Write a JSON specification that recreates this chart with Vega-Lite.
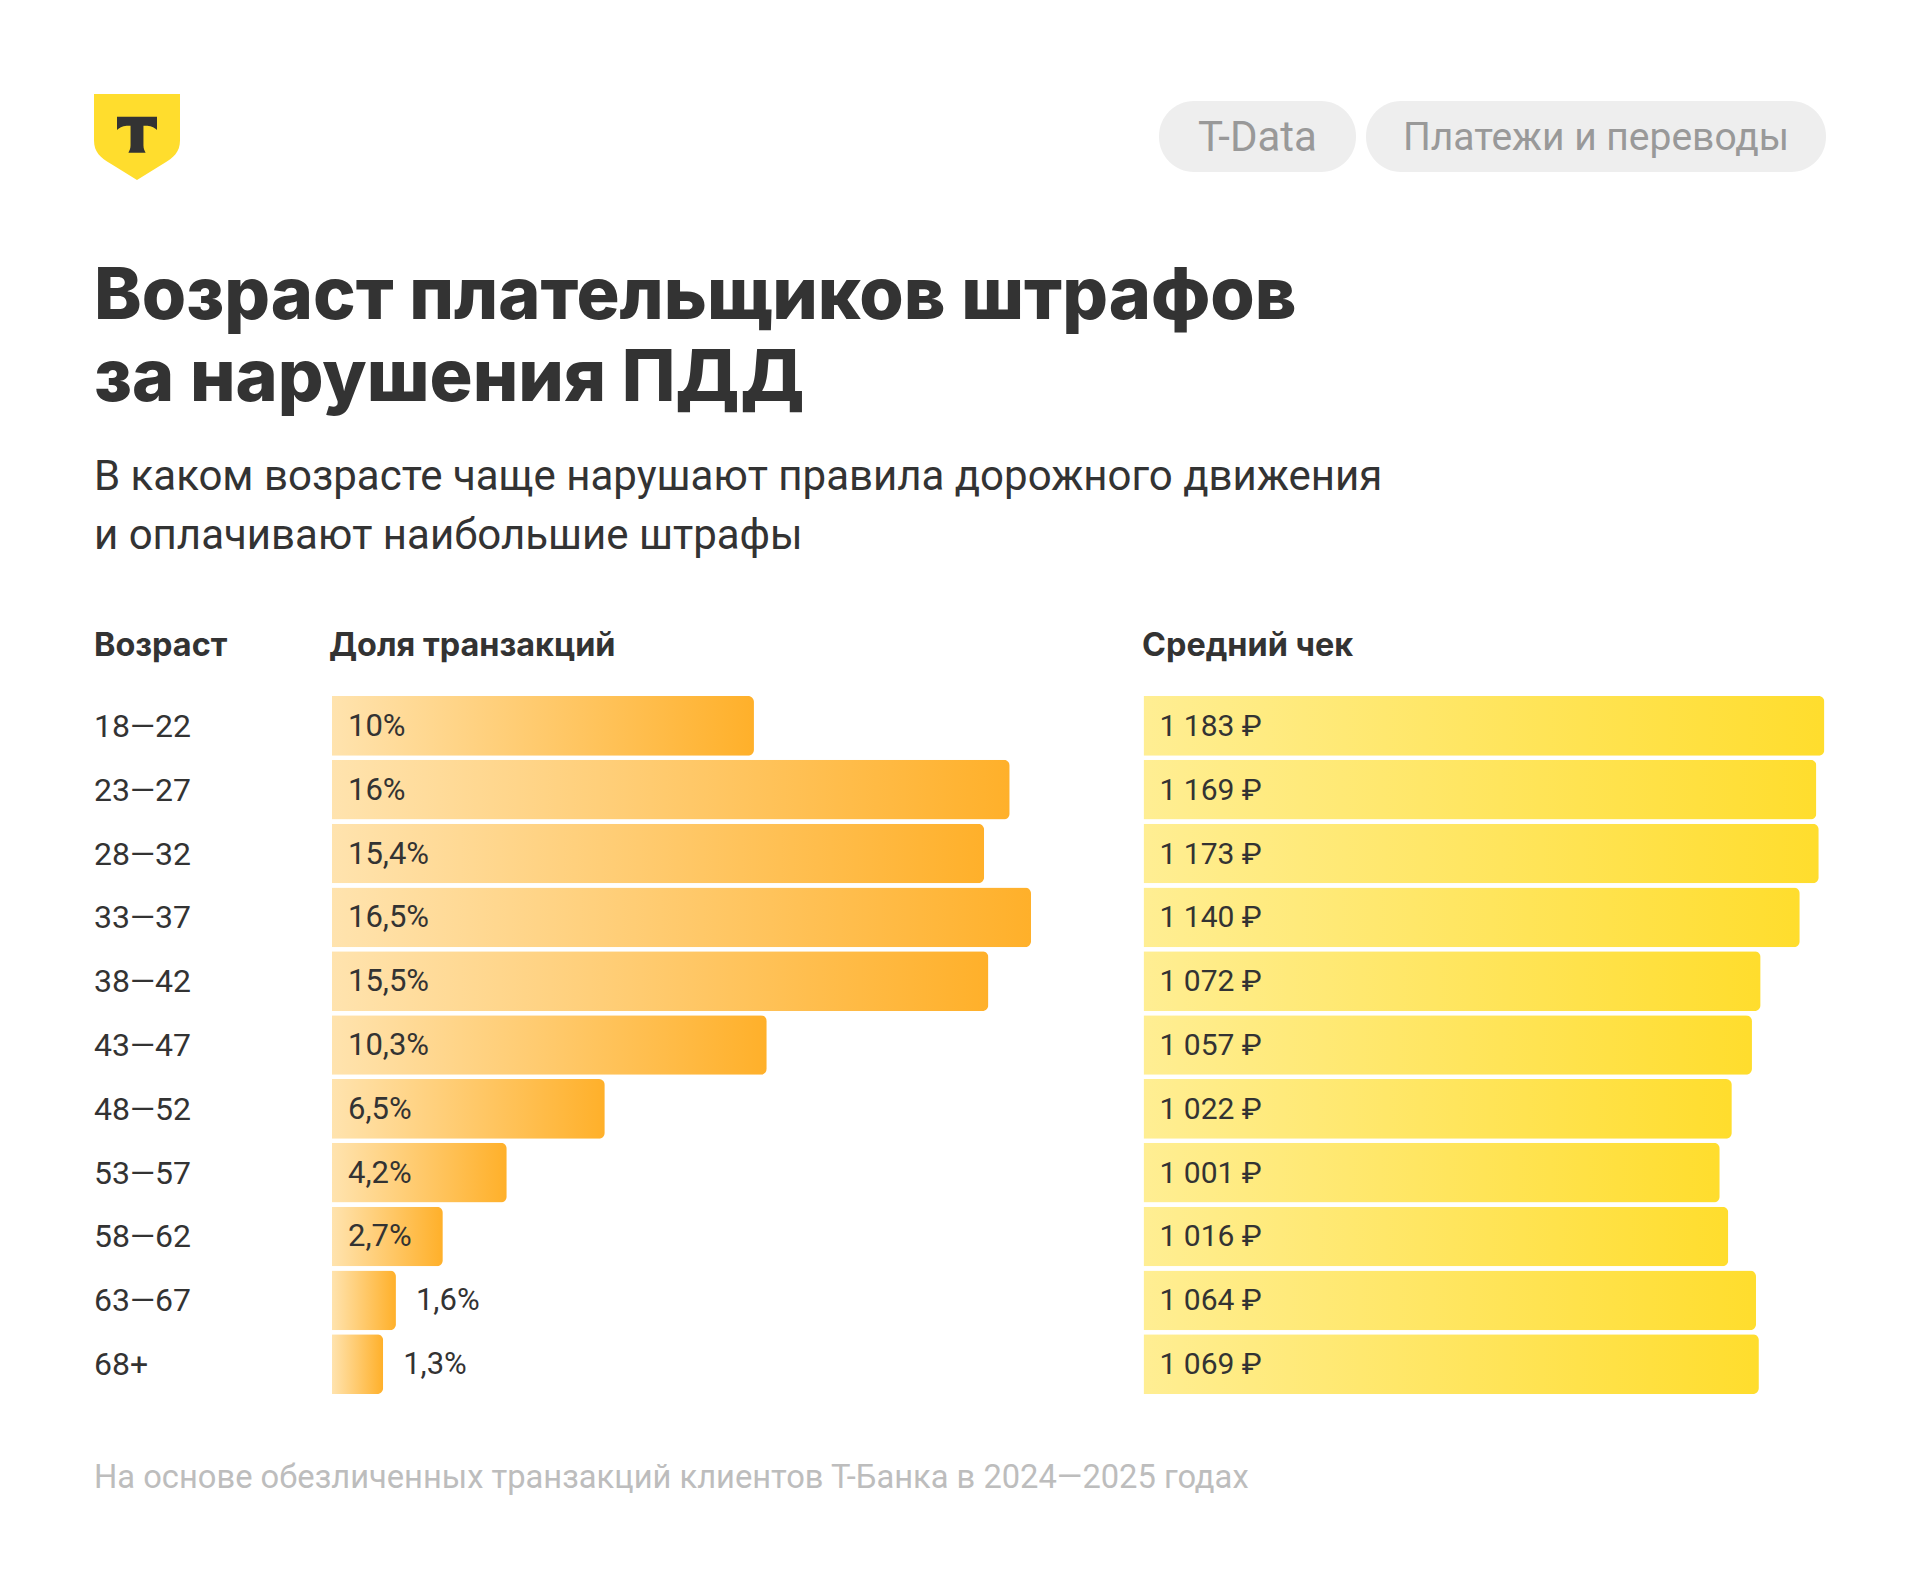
{"$schema":"https://vega.github.io/schema/vega-lite/v6.json","width":1920,"height":1594,"padding":0,"autosize":{"type":"fit","contains":"padding"},"background":"#ffffff","config":{"view":{"stroke":null},"axis":{"domain":false,"ticks":false,"grid":false,"labels":false,"title":null},"text":{"font":"Roboto","color":"#333333"}},
"datasets":{"rows":[
{"age":"18—22","share":10,"share_label":"10%","check":1183,"check_label":"1 183 ₽"},
{"age":"23—27","share":16,"share_label":"16%","check":1169,"check_label":"1 169 ₽"},
{"age":"28—32","share":15.4,"share_label":"15,4%","check":1173,"check_label":"1 173 ₽"},
{"age":"33—37","share":16.5,"share_label":"16,5%","check":1140,"check_label":"1 140 ₽"},
{"age":"38—42","share":15.5,"share_label":"15,5%","check":1072,"check_label":"1 072 ₽"},
{"age":"43—47","share":10.3,"share_label":"10,3%","check":1057,"check_label":"1 057 ₽"},
{"age":"48—52","share":6.5,"share_label":"6,5%","check":1022,"check_label":"1 022 ₽"},
{"age":"53—57","share":4.2,"share_label":"4,2%","check":1001,"check_label":"1 001 ₽"},
{"age":"58—62","share":2.7,"share_label":"2,7%","check":1016,"check_label":"1 016 ₽"},
{"age":"63—67","share":1.6,"share_label":"1,6%","check":1064,"check_label":"1 064 ₽"},
{"age":"68+","share":1.3,"share_label":"1,3%","check":1069,"check_label":"1 069 ₽"}]},
"resolve":{"scale":{"x":"independent","y":"independent"}},
"layer":[
{"layer":[
 {"data":{"values":[{"from":1159,"to":1356},{"from":1366,"to":1826}]},"mark":{"type":"bar","fill":"#EEEEEE","cornerRadius":35},"encoding":{"x":{"field":"from","type":"quantitative","scale":{"domain":[0,1920],"range":[0,1920],"nice":false,"zero":false},"axis":null},"x2":{"field":"to"},"y":{"datum":101,"type":"quantitative","scale":{"domain":[0,1594],"range":[0,1594],"nice":false,"zero":false},"axis":null},"y2":{"datum":172}}},
 {"data":{"values":[{"t":"Shield"}]},"mark":{"type":"point","filled":true,"fill":"#FFDD2D","strokeWidth":0,"opacity":1,"size":7396,"shape":"M-1,-1 L1,-1 L1,0.08 C1,0.35 0.85,0.48 0.61,0.62 L0,1 L-0.61,0.62 C-0.85,0.48 -1,0.35 -1,0.08 Z"},"encoding":{"x":{"datum":137,"type":"quantitative"},"y":{"datum":137,"type":"quantitative"}}},
 {"data":{"values":[{"t":"T"}]},"mark":{"type":"point","filled":true,"fill":"#333333","strokeWidth":0,"opacity":1,"size":7396,"shape":"M-0.465,-0.47 L0.465,-0.47 L0.465,-0.16 L0.43,-0.19 C0.36,-0.25 0.28,-0.26 0.15,-0.26 L0.15,0.2 C0.15,0.28 0.18,0.33 0.2,0.365 L-0.2,0.365 C-0.18,0.33 -0.15,0.28 -0.15,0.2 L-0.15,-0.26 C-0.28,-0.26 -0.36,-0.25 -0.43,-0.19 L-0.465,-0.16 Z"},"encoding":{"x":{"datum":137,"type":"quantitative"},"y":{"datum":137,"type":"quantitative"}}},
 {"data":{"values":[{"t":"T-Data"}]},"mark":{"type":"text","fontSize":42,"color":"#999999","align":"center","baseline":"alphabetic"},"encoding":{"text":{"field":"t"},"x":{"datum":1257.5,"type":"quantitative"},"y":{"datum":151,"type":"quantitative"}}},
 {"data":{"values":[{"t":"Платежи и переводы"}]},"mark":{"type":"text","fontSize":39,"color":"#999999","align":"center","baseline":"alphabetic"},"encoding":{"text":{"field":"t"},"x":{"datum":1596,"type":"quantitative"},"y":{"datum":150,"type":"quantitative"}}},
 {"data":{"values":[{"t":["Возраст плательщиков штрафов","за нарушения ПДД"]}]},"mark":{"type":"text","font":"Inter","fontSize":71.8,"fontWeight":800,"align":"left","baseline":"alphabetic","lineHeight":82},"encoding":{"text":{"field":"t"},"x":{"datum":94,"type":"quantitative"},"y":{"datum":318.5,"type":"quantitative"}}},
 {"data":{"values":[{"t":["В каком возрасте чаще нарушают правила дорожного движения","и оплачивают наибольшие штрафы"]}]},"mark":{"type":"text","fontSize":42,"align":"left","baseline":"alphabetic","lineHeight":59},"encoding":{"text":{"field":"t"},"x":{"datum":94,"type":"quantitative"},"y":{"datum":490,"type":"quantitative"}}},
 {"data":{"values":[{"t":"Возраст"}]},"mark":{"type":"text","font":"Inter","fontSize":32.4,"fontWeight":700,"align":"left","baseline":"alphabetic"},"encoding":{"text":{"field":"t"},"x":{"datum":94,"type":"quantitative"},"y":{"datum":656,"type":"quantitative"}}},
 {"data":{"values":[{"t":"Доля транзакций"}]},"mark":{"type":"text","font":"Inter","fontSize":32.4,"fontWeight":700,"align":"left","baseline":"alphabetic"},"encoding":{"text":{"field":"t"},"x":{"datum":329,"type":"quantitative"},"y":{"datum":656,"type":"quantitative"}}},
 {"data":{"values":[{"t":"Средний чек"}]},"mark":{"type":"text","font":"Inter","fontSize":32.4,"fontWeight":700,"align":"left","baseline":"alphabetic"},"encoding":{"text":{"field":"t"},"x":{"datum":1142,"type":"quantitative"},"y":{"datum":656,"type":"quantitative"}}},
 {"data":{"values":[{"t":"На основе обезличенных транзакций клиентов Т-Банка в 2024—2025 годах"}]},"mark":{"type":"text","fontSize":32.7,"color":"#BDBDBD","align":"left","baseline":"alphabetic"},"encoding":{"text":{"field":"t"},"x":{"datum":94,"type":"quantitative"},"y":{"datum":1488,"type":"quantitative"}}}
]},
{"data":{"name":"rows"},"mark":{"type":"text","fontSize":32,"align":"left","baseline":"middle","dy":1},"encoding":{"text":{"field":"age"},"x":{"datum":94,"type":"quantitative","scale":{"domain":[0,1920],"range":[0,1920],"nice":false,"zero":false},"axis":null},"y":{"field":"age","type":"nominal","sort":null,"axis":null,"scale":{"type":"band","range":[696,1394],"paddingInner":0.065,"paddingOuter":0}}}},
{"data":{"name":"rows"},"encoding":{"y":{"field":"age","type":"nominal","sort":null,"axis":null,"scale":{"type":"band","range":[696,1394],"paddingInner":0.065,"paddingOuter":0}}},"layer":[
 {"mark":{"type":"bar","cornerRadiusTopRight":6,"cornerRadiusBottomRight":6,"fill":{"gradient":"linear","x1":0,"x2":1,"y1":0,"y2":0,"stops":[{"offset":0,"color":"#FFE3AE"},{"offset":1,"color":"#FFB02A"}]}},"encoding":{"x":{"field":"share","type":"quantitative","axis":null,"scale":{"domain":[0.1,16.5],"range":[332,1031],"nice":false,"zero":false,"clamp":true}}}},
 {"transform":[{"filter":"datum.share > 2"}],"mark":{"type":"text","fontSize":31,"align":"left","baseline":"middle","dx":16,"dy":1},"encoding":{"text":{"field":"share_label"},"x":{"datum":0,"type":"quantitative"}}},
 {"transform":[{"filter":"datum.share < 2"}],"mark":{"type":"text","fontSize":31,"align":"left","baseline":"middle","dx":20,"dy":1},"encoding":{"text":{"field":"share_label"},"x":{"field":"share","type":"quantitative"}}}
]},
{"data":{"name":"rows"},"encoding":{"y":{"field":"age","type":"nominal","sort":null,"axis":null,"scale":{"type":"band","range":[696,1394],"paddingInner":0.065,"paddingOuter":0}}},"layer":[
 {"mark":{"type":"bar","cornerRadiusTopRight":6,"cornerRadiusBottomRight":6,"fill":{"gradient":"linear","x1":0,"x2":1,"y1":0,"y2":0,"stops":[{"offset":0,"color":"#FFEE93"},{"offset":1,"color":"#FFDD2D"}]}},"encoding":{"x":{"field":"check","type":"quantitative","axis":null,"scale":{"domain":[0,1183],"range":[1143.5,1824.5],"nice":false}}}},
 {"mark":{"type":"text","fontSize":30,"align":"left","baseline":"middle","dx":16,"dy":1},"encoding":{"text":{"field":"check_label"},"x":{"datum":0,"type":"quantitative"}}}
]}
]}
